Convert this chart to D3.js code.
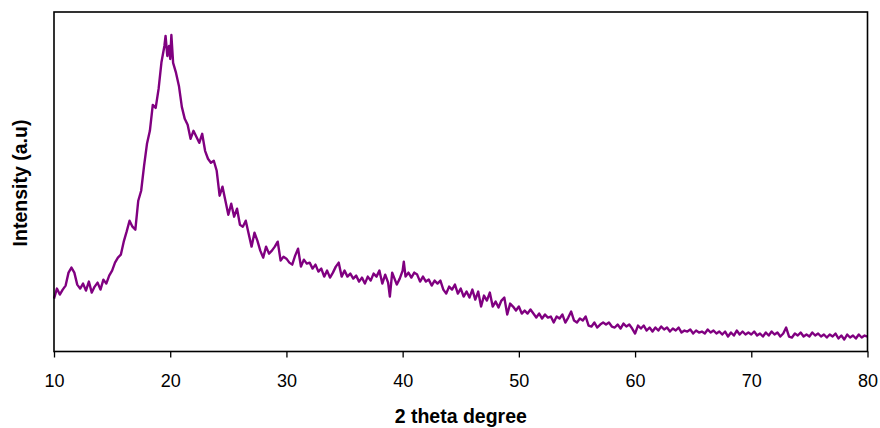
<!DOCTYPE html>
<html>
<head>
<meta charset="utf-8">
<script src="https://cdn.jsdelivr.net/npm/d3@7"></script>
<style>
  body { margin: 0; background: #fff; }
  .axis text { font-family: "Liberation Sans", Arial, sans-serif; font-size: 18px; fill: #000; }
  .axis line { stroke: #000; stroke-width: 1.3px; }
  .axis-title { font-family: "Liberation Sans", Arial, sans-serif; font-size: 19.5px; font-weight: bold; }
</style>
</head>
<body>
<svg id="chart"></svg>
<script>
// 2 theta (degree) and intensity (a.u)
var twoTheta = [
  10.0,10.25,10.5,10.75,11.0,11.25,11.5,11.75,12.0,12.25,12.5,12.75,13.0,13.25,13.5,13.75,
  14.0,14.25,14.5,14.75,15.0,15.25,15.5,15.75,16.0,16.25,16.5,16.75,17.0,17.25,17.5,17.75,
  18.0,18.25,18.5,18.75,19.0,19.25,19.5,19.6,19.75,19.9,20.0,20.1,20.25,20.5,20.75,
  21.0,21.25,21.5,21.75,22.0,22.25,22.5,22.75,23.0,23.25,23.5,23.75,24.0,24.25,24.5,24.75,
  25.0,25.25,25.5,25.75,26.0,26.25,26.5,26.75,27.0,27.25,27.5,27.75,28.0,28.25,28.5,28.75,
  29.0,29.25,29.5,29.75,30.0,30.25,30.5,30.75,31.0,31.25,31.5,31.75,32.0,32.25,32.5,32.75,
  33.0,33.25,33.5,33.75,34.0,34.25,34.5,34.75,35.0,35.25,35.5,35.75,36.0,36.25,36.5,36.75,
  37.0,37.25,37.5,37.75,38.0,38.25,38.5,38.75,38.9,39.1,39.5,39.75,40.0,40.1,40.25,40.5,40.75,
  41.0,41.25,41.5,41.75,42.0,42.25,42.5,42.75,43.0,43.25,43.5,43.75,44.0,44.25,44.5,44.75,
  45.0,45.25,45.5,45.75,46.0,46.25,46.5,46.75,47.0,47.25,47.5,47.75,48.0,48.25,48.5,48.75,
  49.0,49.25,49.5,49.75,50.0,50.25,50.5,50.75,51.0,51.25,51.5,51.75,52.0,52.25,52.5,52.75,
  53.0,53.25,53.5,53.75,54.0,54.25,54.5,54.75,55.0,55.25,55.5,55.75,56.0,56.25,56.5,56.75,
  57.0,57.25,57.5,57.75,58.0,58.25,58.5,58.75,59.0,59.25,59.5,59.75,60.0,60.25,60.5,60.75,
  61.0,61.25,61.5,61.75,62.0,62.25,62.5,62.75,63.0,63.25,63.5,63.75,64.0,64.25,64.5,64.75,
  65.0,65.25,65.5,65.75,66.0,66.25,66.5,66.75,67.0,67.25,67.5,67.75,68.0,68.25,68.5,68.75,
  69.0,69.25,69.5,69.75,70.0,70.25,70.5,70.75,71.0,71.25,71.5,71.75,72.0,72.25,72.5,72.75,
  73.0,73.25,73.5,73.75,74.0,74.25,74.5,74.75,75.0,75.25,75.5,75.75,76.0,76.25,76.5,76.75,
  77.0,77.25,77.5,77.75,78.0,78.25,78.5,78.75,79.0,79.25,79.5,79.75,80.0
];
var intensity = [
  53,63,57,62,66,79,84,79,67,63,68,61,70,59,65,69,
  62,72,68,76,81,89,94,97,110,120,131,125,122,151,161,186,
  208,221,247,244,263,290,306,316,296,306,293,317,289,279,266,
  245,233,227,213,221,215,209,218,201,193,189,191,181,156,165,151,
  137,148,135,143,127,125,131,118,105,119,111,101,94,105,98,101,
  105,110,91,95,93,89,87,96,103,85,92,88,89,83,87,80,
  83,75,81,74,79,85,89,75,81,75,78,73,76,70,74,68,
  75,71,78,75,81,68,77,69,55,79,67,73,81,90,75,79,74,
  79,77,70,75,70,72,66,71,68,71,62,58,65,62,67,58,
  63,55,60,54,62,52,60,45,56,51,59,45,50,44,51,54,
  37,48,45,41,45,38,41,38,42,38,34,38,33,37,34,35,
  29,35,33,37,29,34,40,31,29,33,31,35,26,25,29,24,
  27,29,27,29,25,24,27,23,28,25,27,23,18,26,23,26,
  21,24,20,24,21,25,22,24,20,23,21,24,19,21,20,22,
  18,21,19,20,18,22,19,21,18,20,17,20,15,19,16,21,
  17,20,17,19,17,20,16,18,15,19,16,20,17,19,15,18,
  24,15,14,18,16,19,15,17,15,19,16,18,15,17,14,17,
  15,18,13,16,12,17,14,16,13,17,14,16,15
];
var xTicks = [10, 20, 30, 40, 50, 60, 70, 80];

var data = twoTheta.map(function(t, i) { return { x: t, y: intensity[i] }; });

var margin = {top: 12, right: 12.5, bottom: 76.5, left: 54},
    width = 880 - margin.left - margin.right,
    height = 428 - margin.top - margin.bottom;

var x = d3.scaleLinear()
    .range([0, width])
    .domain([10, 80]);

var y = d3.scaleLinear()
    .range([height, 0])
    .domain([0, 340]);

var line = d3.line()
    .x(function(d) { return x(d.x); })
    .y(function(d) { return y(d.y); });

var svg = d3.select("#chart")
    .attr("width", 880)
    .attr("height", 428)
  .append("g")
    .attr("transform", "translate(" + margin.left + "," + margin.top + ")");

svg.append("g")
    .attr("class", "axis axis--x")
    .attr("transform", "translate(0," + height + ")")
    .call(d3.axisBottom(x).tickValues(xTicks).tickSize(6).tickSizeOuter(0).tickPadding(17))
    .call(function(g) { g.select(".domain").remove(); });

svg.append("path")
    .datum(data)
    .attr("class", "line")
    .attr("fill", "none")
    .attr("stroke", "#800080")
    .attr("stroke-width", 2.4)
    .attr("stroke-linejoin", "round")
    .attr("d", line);

// plot frame
svg.append("rect")
    .attr("width", width)
    .attr("height", height)
    .attr("fill", "none")
    .attr("stroke", "#000")
    .attr("stroke-width", 1.6);

svg.append("text")
    .attr("class", "axis-title")
    .attr("x", width / 2)
    .attr("y", height + 71)
    .attr("text-anchor", "middle")
    .text("2 theta degree");

svg.append("text")
    .attr("class", "axis-title")
    .attr("transform", "rotate(-90)")
    .attr("x", -171)
    .attr("y", -27)
    .attr("text-anchor", "middle")
    .text("Intensity (a.u)");
</script>
</body>
</html>
